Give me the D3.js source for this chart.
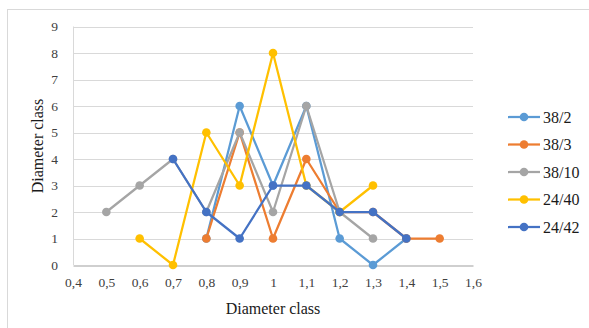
<!DOCTYPE html>
<html>
<head>
<meta charset="utf-8">
<script src="https://cdn.jsdelivr.net/npm/d3@7"></script>
<style>
  body { margin: 0; background: #fff; }
</style>
</head>
<body>
<svg width="589" height="328"></svg>
<script>
// --- Data ---
const xTicks = [0.4, 0.5, 0.6, 0.7, 0.8, 0.9, 1.0, 1.1, 1.2, 1.3, 1.4, 1.5, 1.6];
const yTicks = [0, 1, 2, 3, 4, 5, 6, 7, 8, 9];

const seriesNames = ["38/2", "38/3", "38/10", "24/40", "24/42"];
const seriesColors = ["#5B9BD5", "#ED7D31", "#A5A5A5", "#FFC000", "#4472C4"];

const s38_2 = [[0.8, 1], [0.9, 6], [1.0, 3], [1.1, 6], [1.2, 1], [1.3, 0], [1.4, 1]];
const s38_3 = [[0.8, 1], [0.9, 5], [1.0, 1], [1.1, 4], [1.2, 2], [1.3, 2], [1.4, 1], [1.5, 1]];
const s38_10 = [[0.5, 2], [0.6, 3], [0.7, 4], [0.8, 2], [0.9, 5], [1.0, 2], [1.1, 6], [1.2, 2], [1.3, 1]];
const s24_40 = [[0.6, 1], [0.7, 0], [0.8, 5], [0.9, 3], [1.0, 8], [1.1, 3], [1.2, 2], [1.3, 3]];
const s24_42 = [[0.7, 4], [0.8, 2], [0.9, 1], [1.0, 3], [1.1, 3], [1.2, 2], [1.3, 2], [1.4, 1]];
const allSeries = [s38_2, s38_3, s38_10, s24_40, s24_42];

// --- Setup ---
const svg = d3.select("svg");
const FONT = "Liberation Serif";
const fmt = d => String(+d.toFixed(1)).replace(".", ",");

// outer frame
svg.append("rect")
    .attr("x", 7.5).attr("y", 9.5)
    .attr("width", 600).attr("height", 340)
    .attr("fill", "none")
    .attr("stroke", "#d9d9d9");

const x = d3.scaleLinear().domain([0.4, 1.6]).range([73, 473]);
const y = d3.scaleLinear().domain([0, 9]).range([265, 26.5]);

// gridlines
svg.append("g")
    .selectAll("line")
    .data(yTicks.filter(d => d > 0))
    .enter().append("line")
    .attr("x1", x(0.4)).attr("x2", x(1.6))
    .attr("y1", d => Math.round(y(d)) + 0.5)
    .attr("y2", d => Math.round(y(d)) + 0.5)
    .attr("stroke", "#d9d9d9")
    .attr("stroke-width", 1);

// y axis line
svg.append("line")
    .attr("x1", x(0.4) + 0.5).attr("x2", x(0.4) + 0.5)
    .attr("y1", y(9)).attr("y2", y(0))
    .attr("stroke", "#d9d9d9");

// x axis
const xAxis = svg.append("g")
    .attr("transform", `translate(0,${Math.round(y(0)) + 0.5})`)
    .call(d3.axisBottom(x).tickValues(xTicks).tickFormat(fmt).tickSize(0).tickPadding(12));
xAxis.attr("font-family", FONT).attr("font-size", 13.5);
xAxis.select(".domain").attr("stroke", "#bfbfbf").attr("stroke-width", 1.3);
xAxis.selectAll("text").attr("fill", "#404040");

// y axis labels
const yAxis = svg.append("g")
    .attr("transform", `translate(${x(0.4)},0)`)
    .call(d3.axisLeft(y).tickValues(yTicks).tickFormat(d3.format("d")).tickSize(0).tickPadding(15));
yAxis.attr("font-family", FONT).attr("font-size", 13.5);
yAxis.select(".domain").remove();
yAxis.selectAll("text").attr("fill", "#404040");

// axis titles
svg.append("text")
    .attr("x", 273).attr("y", 314)
    .attr("text-anchor", "middle")
    .attr("font-family", FONT)
    .attr("font-size", 16)
    .attr("fill", "#1a1a1a")
    .text("Diameter class");

svg.append("text")
    .attr("transform", "translate(43,146) rotate(-90)")
    .attr("text-anchor", "middle")
    .attr("font-family", FONT)
    .attr("font-size", 16)
    .attr("fill", "#1a1a1a")
    .text("Diameter class");

// --- Series ---
const line = d3.line().x(d => x(d[0])).y(d => y(d[1]));

allSeries.forEach((data, i) => {
    const g = svg.append("g");
    g.append("path")
        .datum(data)
        .attr("d", line)
        .attr("fill", "none")
        .attr("stroke", seriesColors[i])
        .attr("stroke-width", 2.25)
        .attr("stroke-linejoin", "round");
    g.selectAll("circle")
        .data(data)
        .enter().append("circle")
        .attr("cx", d => x(d[0]))
        .attr("cy", d => y(d[1]))
        .attr("r", 4.3)
        .attr("fill", seriesColors[i]);
});

// --- Legend ---
const legend = svg.append("g")
    .selectAll("g")
    .data(seriesNames)
    .enter().append("g")
    .attr("transform", (d, i) => `translate(508,${117 + i * 27.5})`);

legend.append("line")
    .attr("x1", 0).attr("x2", 32)
    .attr("stroke", (d, i) => seriesColors[i])
    .attr("stroke-width", 2.25);
legend.append("circle")
    .attr("cx", 16).attr("r", 4.3)
    .attr("fill", (d, i) => seriesColors[i]);
legend.append("text")
    .attr("x", 35).attr("y", 5.5)
    .attr("font-family", FONT)
    .attr("font-size", 16)
    .attr("fill", "#1a1a1a")
    .text(d => d);
</script>
</body>
</html>
